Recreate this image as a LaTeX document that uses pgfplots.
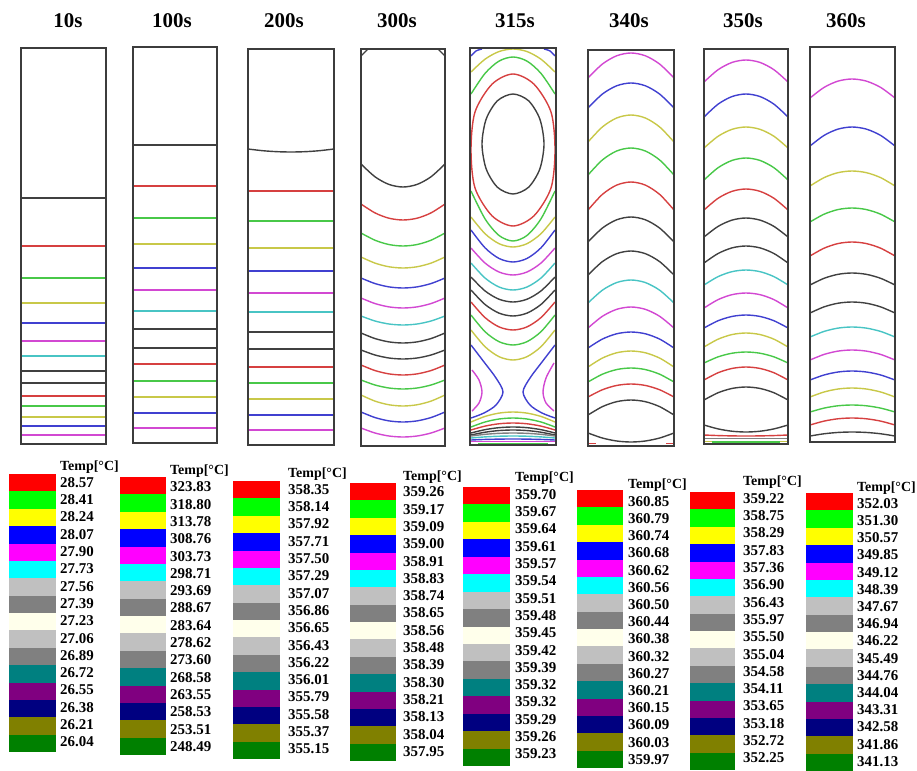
\documentclass[border=0pt]{standalone}
\usepackage{pgfplots}
\pgfplotsset{compat=1.18}
\usepackage{pgfplotstable}
\usepackage{fontspec}
\setmainfont{Liberation Serif}

\definecolor{cR}{RGB}{214,64,64}
\definecolor{cG}{RGB}{72,200,72}
\definecolor{cY}{RGB}{200,200,72}
\definecolor{cB}{RGB}{64,64,208}
\definecolor{cM}{RGB}{210,72,210}
\definecolor{cC}{RGB}{72,196,196}
\definecolor{cK}{RGB}{64,64,64}
\definecolor{cS}{RGB}{128,128,128}
\definecolor{frame}{RGB}{60,60,60}

\definecolor{sw0}{RGB}{255,0,0}
\definecolor{sw1}{RGB}{0,255,0}
\definecolor{sw2}{RGB}{255,255,0}
\definecolor{sw3}{RGB}{0,0,255}
\definecolor{sw4}{RGB}{255,0,255}
\definecolor{sw5}{RGB}{0,255,255}
\definecolor{sw6}{RGB}{192,192,192}
\definecolor{sw7}{RGB}{128,128,128}
\definecolor{sw8}{RGB}{255,255,235}
\definecolor{sw9}{RGB}{192,192,192}
\definecolor{sw10}{RGB}{128,128,128}
\definecolor{sw11}{RGB}{0,128,128}
\definecolor{sw12}{RGB}{128,0,128}
\definecolor{sw13}{RGB}{0,0,128}
\definecolor{sw14}{RGB}{128,128,0}
\definecolor{sw15}{RGB}{0,128,0}

\pgfplotstableread{
x y
0 0
1 0
1 1
0 1
}\unitsq

\pgfplotsset{cl/.style={line width=1.4bp}}

% horizontal contour: colour, xl, xr, y
\newcommand\hl[4]{\addplot[#1,cl] coordinates {(#2,#4) (#3,#4)};}
% arc contour read at walls, at the centre and at the thirds: colour, xl, xc, xr, y at walls, y at centre
\newcommand\ac[6]{%
  \pgfmathsetmacro\xa{#2+(#3-#2)/3}\pgfmathsetmacro\xb{#2+2*(#3-#2)/3}%
  \pgfmathsetmacro\xd{#3+(#4-#3)/3}\pgfmathsetmacro\xe{#3+2*(#4-#3)/3}%
  \pgfmathsetmacro\ya{#6+0.444*(#5-#6)}\pgfmathsetmacro\yb{#6+0.111*(#5-#6)}%
  \addplot[#1,cl,smooth] coordinates {(#2,#5) (\xa,\ya) (\xb,\yb) (#3,#6) (\xd,\yb) (\xe,\ya) (#4,#5)};}
% panel frame
\newcommand\frm[4]{\addplot[frame,line width=1.8bp,line cap=rect,line join=miter] coordinates {(#1,#2) (#3,#2) (#3,#4) (#1,#4) (#1,#2)};}
% swatch column: xl, xr, ytop, h
\newcommand\swcol[4]{%
  \pgfplotsinvokeforeach{0,...,15}{%
    \addplot[draw=none,fill=sw##1] table[x expr={#1+(#2-#1)*\thisrow{x}}, y expr={#3+#4*(##1+\thisrow{y})}] {\unitsq};
  }%
}
\newcommand\valfont{\fontsize{15}{15}\selectfont\bfseries}
\newcommand\vals[4]{%
  \foreach \v [count=\i from 0] in {#4} {\node[anchor=west,inner sep=0pt,font=\valfont] at (#1,{#2+#3*\i}) {\v};}%
}

\begin{document}
\begin{tikzpicture}
\path[use as bounding box] (0,0) rectangle (917bp,771bp);
\begin{axis}[width=917bp,height=771bp,scale only axis,
  xmin=0,xmax=917,ymin=0,ymax=771,y dir=reverse,hide axis,clip=false]

% ---------- 10s ----------
\hl{cK}{21}{106}{198}
\hl{cR}{21}{106}{246}
\hl{cG}{21}{106}{278}
\hl{cY}{21}{106}{303}
\hl{cB}{21}{106}{323}
\addplot[cM,line width=2bp] coordinates {(21,341) (106,341)};
\hl{cC}{21}{106}{356}
\hl{cK}{21}{106}{371}
\hl{cK}{21}{106}{383}
\hl{cR}{21}{106}{396}
\hl{cG}{21}{106}{406}
\hl{cY}{21}{106}{417}
\hl{cB}{21}{106}{426}
\hl{cM}{21}{106}{435}
\frm{21}{48}{106}{444}

% ---------- 100s ----------
\hl{cK}{133}{217}{145}
\hl{cR}{133}{217}{186}
\hl{cG}{133}{217}{218}
\hl{cY}{133}{217}{244}
\hl{cB}{133}{217}{268}
\hl{cM}{133}{217}{290}
\hl{cC}{133}{217}{311}
\hl{cK}{133}{217}{329}
\hl{cK}{133}{217}{348}
\hl{cR}{133}{217}{364}
\hl{cG}{133}{217}{381}
\hl{cY}{133}{217}{397}
\hl{cB}{133}{217}{413}
\hl{cM}{133}{217}{428}
\frm{133}{47}{217}{443}

% ---------- 200s ----------
\ac{cK}{248}{291}{334}{149}{152}
\hl{cR}{248}{334}{191}
\hl{cG}{248}{334}{221}
\hl{cY}{248}{334}{248}
\hl{cB}{248}{334}{271}
\hl{cM}{248}{334}{293}
\hl{cC}{248}{334}{312}
\hl{cK}{248}{334}{332}
\hl{cK}{248}{334}{349}
\hl{cR}{248}{334}{367}
\hl{cG}{248}{334}{383}
\hl{cY}{248}{334}{399}
\hl{cB}{248}{334}{415}
\hl{cM}{248}{334}{430}
\frm{248}{49}{334}{445}

% ---------- 300s ----------
\addplot[cK,cl] coordinates {(361,56) (368,49)};
\addplot[cK,cl] coordinates {(438,49) (445,56)};
\ac{cK}{361}{403}{445}{164}{187}
\ac{cR}{361}{403}{445}{204}{220}
\ac{cG}{361}{403}{445}{233}{246}
\ac{cY}{361}{403}{445}{257}{268}
\ac{cB}{361}{403}{445}{278}{288}
\ac{cM}{361}{403}{445}{298}{308}
\ac{cC}{361}{403}{445}{316}{325}
\ac{cK}{361}{403}{445}{333}{343}
\ac{cK}{361}{403}{445}{350}{359}
\ac{cR}{361}{403}{445}{365}{375}
\ac{cG}{361}{403}{445}{380}{389}
\ac{cY}{361}{403}{445}{395}{406}
\ac{cB}{361}{403}{445}{412}{422}
\ac{cM}{361}{403}{445}{428}{437}
\frm{361}{49}{445}{446}

% ---------- 315s ----------
\addplot[cK,cl,smooth cycle] coordinates {(544,144) (539.8,119) (528.5,100.7) (513,94) (497.5,100.7) (486.2,119) (482,144) (486.2,169) (497.5,187.3) (513,194) (528.5,187.3) (539.8,169)};
\addplot[cR,cl,smooth cycle] coordinates {(555,150) (551,112) (534,84.2) (513,74) (492,84.2) (475,112) (471,150) (475,188) (492,215.8) (513,226) (534,215.8) (551,188)};
\ac{cG}{471}{513}{555}{94}{57}
\ac{cG}{471}{513}{555}{191}{241}
\ac{cY}{471}{513}{555}{72}{49}
\ac{cY}{471}{513}{555}{217}{247}
\addplot[cB,cl,smooth] coordinates {(471,56) (476,51) (482,49)};
\addplot[cB,cl,smooth] coordinates {(544,49) (550,51) (555,56)};
\ac{cB}{471}{513}{555}{230}{262}
\ac{cM}{471}{513}{555}{248}{275}
\ac{cC}{471}{513}{555}{263}{290}
\ac{cK}{471}{513}{555}{277}{302}
\ac{cK}{471}{513}{555}{290}{316}
\ac{cR}{471}{513}{555}{302}{330}
\ac{cG}{471}{513}{555}{315}{345}
\ac{cY}{471}{513}{555}{330}{360}
\addplot[cB,cl,smooth] coordinates {(471,345) (484,362) (496,378) (503,392) (496,405) (484,413) (471,418)};
\addplot[cB,cl,smooth] coordinates {(555,345) (542,362) (530,378) (523,392) (530,405) (542,413) (555,418)};
\addplot[cM,cl,smooth] coordinates {(472,370) (479,380) (482,392) (479,403) (472,411)};
\addplot[cM,cl,smooth] coordinates {(554,363) (546,378) (543,392) (546,403) (554,411)};
\ac{cY}{471}{513}{555}{422}{412}
\ac{cG}{471}{513}{555}{427}{418}
\ac{cR}{471}{513}{555}{430}{423}
\ac{cK}{471}{513}{555}{433}{427}
\ac{cK}{471}{513}{555}{435}{430}
\ac{cS}{471}{513}{555}{436}{433}
\ac{cC}{471}{513}{555}{438}{436}
\ac{cB}{471}{513}{555}{440}{439}
\hl{cM}{471}{555}{441.5}
\hl{cG}{478}{548}{443.3}
\frm{470}{48}{556}{445}

% ---------- 340s ----------
\ac{cM}{588}{631}{674}{78}{53}
\ac{cB}{588}{631}{674}{108}{83}
\ac{cY}{588}{631}{674}{142}{115}
\ac{cG}{588}{631}{674}{175}{148}
\ac{cR}{588}{631}{674}{210}{182}
\ac{cK}{588}{631}{674}{242}{217}
\ac{cK}{588}{631}{674}{275}{251}
\ac{cC}{588}{631}{674}{303}{280}
\ac{cM}{588}{631}{674}{328}{307}
\ac{cB}{588}{631}{674}{348}{332}
\ac{cY}{588}{631}{674}{367}{351}
\ac{cG}{588}{631}{674}{382}{368}
\ac{cR}{588}{631}{674}{397}{384}
\ac{cK}{588}{631}{674}{415}{400}
\ac{cK}{588}{631}{674}{433}{442}
\addplot[cR,cl] coordinates {(589,443.5) (596,443.5)};
\addplot[cR,cl] coordinates {(666,443.5) (673,443.5)};
\frm{588}{50}{674}{446}

% ---------- 350s ----------
\ac{cM}{704}{746}{788}{82}{60}
\ac{cB}{704}{746}{788}{117}{94}
\ac{cY}{704}{746}{788}{148}{127}
\ac{cG}{704}{746}{788}{180}{158}
\ac{cR}{704}{746}{788}{210}{189}
\ac{cK}{704}{746}{788}{237}{218}
\ac{cK}{704}{746}{788}{263}{246}
\ac{cC}{704}{746}{788}{285}{270}
\ac{cM}{704}{746}{788}{308}{293}
\ac{cB}{704}{746}{788}{328}{315}
\ac{cY}{704}{746}{788}{347}{333}
\ac{cG}{704}{746}{788}{363}{352}
\ac{cR}{704}{746}{788}{380}{367}
\ac{cK}{704}{746}{788}{400}{387}
\ac{cK}{704}{746}{788}{425}{432}
\ac{cR}{704}{746}{788}{435}{436}
\hl{cS}{704}{788}{438.5}
\hl{cY}{704}{788}{441.5}
\addplot[cG,line width=2bp] coordinates {(712,442) (780,442)};
\frm{704}{49}{788}{444}

% ---------- 360s ----------
\ac{cM}{810}{852}{895}{98}{79}
\ac{cB}{810}{852}{895}{146}{127}
\ac{cY}{810}{852}{895}{186}{171}
\ac{cG}{810}{852}{895}{222}{208}
\ac{cR}{810}{852}{895}{256}{242}
\ac{cK}{810}{852}{895}{285}{273}
\ac{cK}{810}{852}{895}{313}{302}
\ac{cC}{810}{852}{895}{337}{327}
\ac{cM}{810}{852}{895}{360}{350}
\ac{cB}{810}{852}{895}{380}{371}
\ac{cY}{810}{852}{895}{397}{388}
\ac{cG}{810}{852}{895}{412}{405}
\ac{cR}{810}{852}{895}{425}{418}
\ac{cK}{810}{852}{895}{436}{432}
\frm{810}{47}{895}{442}

% ---------- colour keys ----------
\swcol{9}{56}{474}{17.375}
\swcol{120}{166}{477}{17.375}
\swcol{233}{280}{481}{17.375}
\swcol{350}{396}{483}{17.375}
\swcol{463}{510}{487}{17.44}
\swcol{577}{623}{490}{17.375}
\swcol{690}{735}{492}{17.375}
\swcol{806}{853}{493}{17.375}
\end{axis}

\begin{scope}[yshift=771bp,x=1bp,y=-1bp]
\tikzset{ttl/.style={font=\fontsize{21}{21}\selectfont\bfseries,inner sep=0pt}}
\node[ttl] at (68,21) {10s};
\node[ttl] at (172,21) {100s};
\node[ttl] at (284,21) {200s};
\node[ttl] at (397,21) {300s};
\node[ttl] at (515,21) {315s};
\node[ttl] at (629,21) {340s};
\node[ttl] at (743,21) {350s};
\node[ttl] at (846,21) {360s};

\tikzset{kt/.style={font=\fontsize{14}{14}\selectfont\bfseries,inner sep=0pt,anchor=west}}
\node[kt] at (60,467) {Temp[°C]};
\node[kt] at (170,471) {Temp[°C]};
\node[kt] at (288,474) {Temp[°C]};
\node[kt] at (403,477) {Temp[°C]};
\node[kt] at (515,478) {Temp[°C]};
\node[kt] at (628,485) {Temp[°C]};
\node[kt] at (743,482) {Temp[°C]};
\node[kt] at (857,488) {Temp[°C]};

\vals{60}{482.5}{17.3}{28.57,28.41,28.24,28.07,27.90,27.73,27.56,27.39,27.23,27.06,26.89,26.72,26.55,26.38,26.21,26.04}
\vals{170}{487}{17.3}{323.83,318.80,313.78,308.76,303.73,298.71,293.69,288.67,283.64,278.62,273.60,268.58,263.55,258.53,253.51,248.49}
\vals{288}{489.5}{17.3}{358.35,358.14,357.92,357.71,357.50,357.29,357.07,356.86,356.65,356.43,356.22,356.01,355.79,355.58,355.37,355.15}
\vals{403}{492}{17.3}{359.26,359.17,359.09,359.00,358.91,358.83,358.74,358.65,358.56,358.48,358.39,358.30,358.21,358.13,358.04,357.95}
\vals{515}{494.5}{17.3}{359.70,359.67,359.64,359.61,359.57,359.54,359.51,359.48,359.45,359.42,359.39,359.32,359.32,359.29,359.26,359.23}
\vals{628}{501.5}{17.2}{360.85,360.79,360.74,360.68,360.62,360.56,360.50,360.44,360.38,360.32,360.27,360.21,360.15,360.09,360.03,359.97}
\vals{743}{498.5}{17.3}{359.22,358.75,358.29,357.83,357.36,356.90,356.43,355.97,355.50,355.04,354.58,354.11,353.65,353.18,352.72,352.25}
\vals{857}{503.5}{17.2}{352.03,351.30,350.57,349.85,349.12,348.39,347.67,346.94,346.22,345.49,344.76,344.04,343.31,342.58,341.86,341.13}
\end{scope}
\end{tikzpicture}
\end{document}
